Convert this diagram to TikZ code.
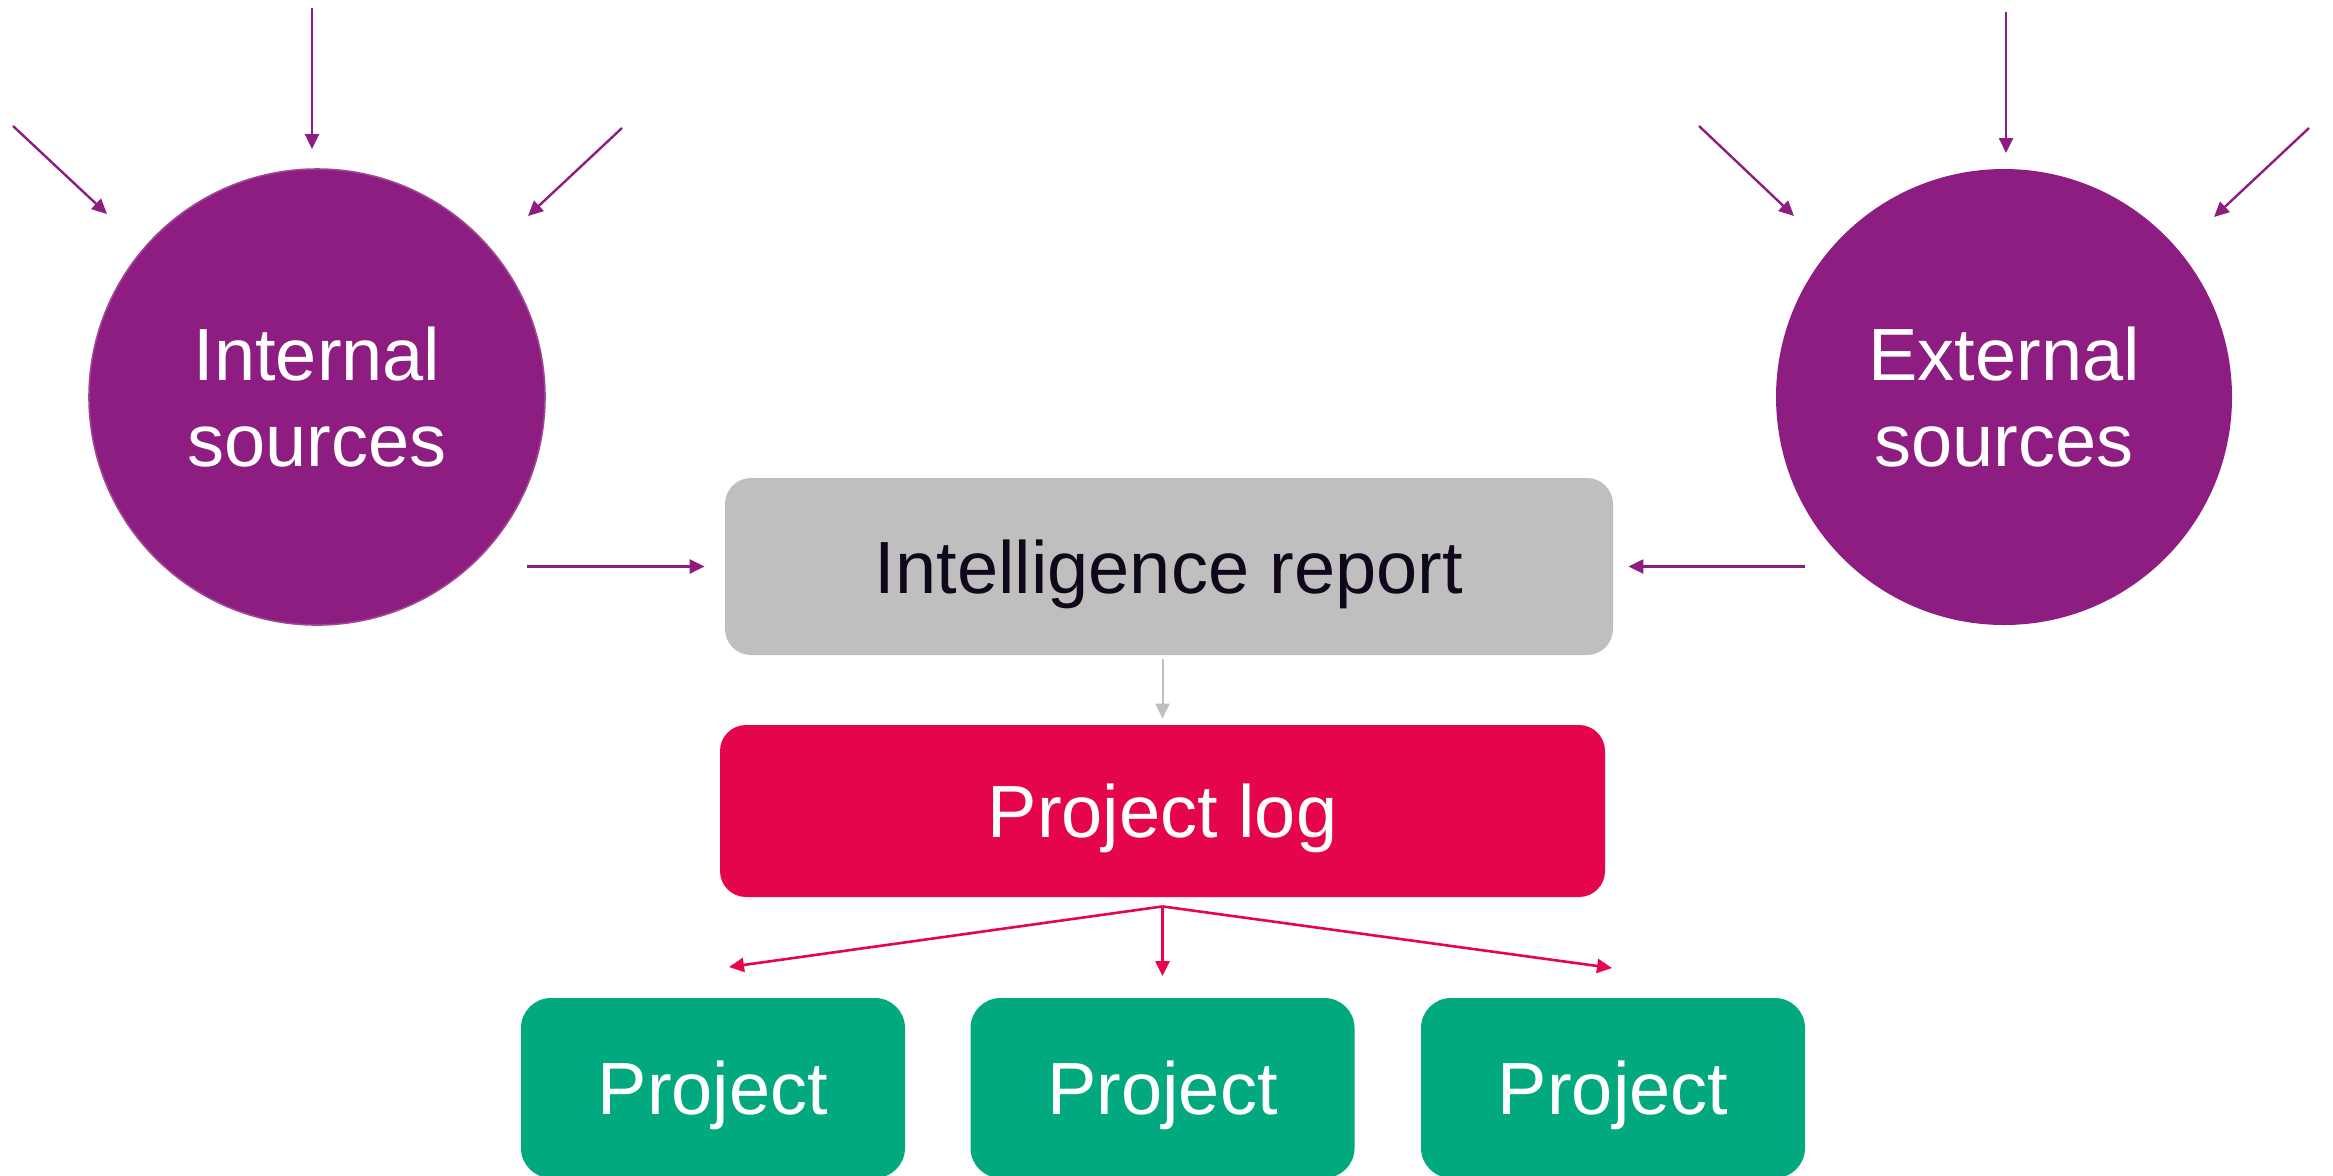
\documentclass[tikz,border=0pt]{standalone}
\usepackage{fontspec}
\setmainfont{Liberation Sans}
\usetikzlibrary{arrows.meta,calc}

\definecolor{srcpurple}{RGB}{141,29,128}
\definecolor{srcedge}{RGB}{160,70,150}
\definecolor{reportgray}{RGB}{191,191,191}
\definecolor{logred}{RGB}{228,5,75}
\definecolor{projgreen}{RGB}{2,168,126}
\definecolor{inktext}{RGB}{16,8,26}

\begin{document}
\begin{tikzpicture}[x=0.5pt,y=-0.5pt,
  source/.style={circle, fill=srcpurple, minimum size=228pt, inner sep=0pt,
    text=white, font=\fontsize{37}{43}\selectfont, align=center},
  box/.style={rectangle, rounded corners=13pt, inner sep=0pt,
    font=\fontsize{37}{43}\selectfont, text height=26.5pt, text depth=0pt},
  reportbox/.style={box, fill=reportgray, text=inktext,
    minimum width=444pt, minimum height=88.5pt},
  logbox/.style={box, fill=logred, text=white,
    minimum width=442.5pt, minimum height=86pt},
  projbox/.style={box, fill=projgreen, text=white, rounded corners=15pt,
    minimum width=192pt, minimum height=90pt},
  tip/.style={-{Triangle[length=7.5pt,width=7pt]}},
  feed/.style={tip, draw=srcpurple, line width=1.2pt},
  pass/.style={tip, draw=reportgray, line width=1pt},
  split/.style={tip, draw=logred, line width=1.3pt}
]
\useasboundingbox (0,0) rectangle (2333,1175);

% sources
\node[source, draw=srcedge, line width=0.8pt] (int) at (317,397) {Internal\\sources};
\node[source] (ext) at (2004,397) {External\\sources};

% central chain
\node[reportbox] (report) at (1169,566.5) {Intelligence report};
\node[logbox] (log) at (1162.5,811) {Project log};

% projects
\node[projbox] (p1) at (713,1088) {Project};
\node[projbox] (p2) at (1162.5,1088) {Project};
\node[projbox] (p3) at (1613,1088) {Project};

% incoming feeds around the internal sources
\coordinate (intTopS) at (312,8);     \coordinate (intTopE) at (312,149);
\coordinate (intLS) at (13,126);      \coordinate (intLE) at (107,214);
\coordinate (intRS) at (622,128);     \coordinate (intRE) at (528,216);
\draw[feed] (intTopS) -- (intTopE);
\draw[feed] (intLS) -- (intLE);
\draw[feed] (intRS) -- (intRE);

% incoming feeds around the external sources
\coordinate (extTopS) at (2006,12);   \coordinate (extTopE) at (2006,153);
\coordinate (extLS) at (1699,126);    \coordinate (extLE) at (1794,216);
\coordinate (extRS) at (2309,128);    \coordinate (extRE) at (2214,217);
\draw[feed] (extTopS) -- (extTopE);
\draw[feed] (extLS) -- (extLE);
\draw[feed] (extRS) -- (extRE);

% sources into the report
\coordinate (intOut) at (527,566.5);
\coordinate (extOut) at (1805,566.5);
\draw[feed, shorten >=10pt] (intOut) -- (report.west);
\draw[feed, shorten >=7.5pt] (extOut) -- (report.east);

% report into the log
\draw[pass, shorten <=2pt, shorten >=3pt] (log.north |- report.south) -- (log.north);

% log out to the projects
\coordinate (fork) at ($(log.south)+(0,9)$);
\coordinate (toP1) at (729,967);
\coordinate (toP2) at (1162.5,976);
\coordinate (toP3) at (1612,968);
\draw[split] (fork) -- (toP1);
\draw[split] (fork) -- (toP2);
\draw[split] (fork) -- (toP3);
\end{tikzpicture}
\end{document}
